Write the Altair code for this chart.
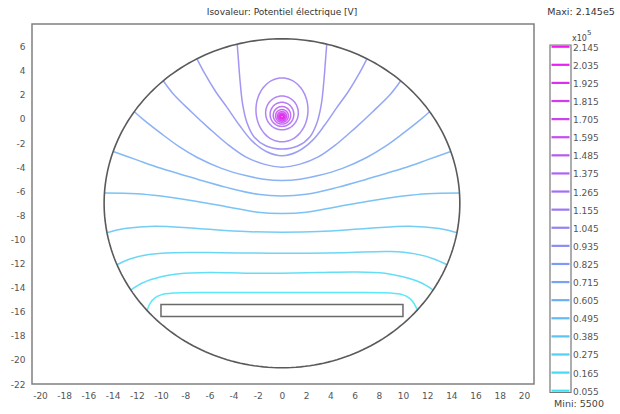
import altair as alt
import numpy as np
import pandas as pd

# ---------------- data ----------------
LEVELS = [0.055, 0.165, 0.275, 0.385, 0.495, 0.605, 0.715, 0.825, 0.935, 1.045,
          1.155, 1.265, 1.375, 1.485, 1.595, 1.705, 1.815, 1.925, 2.035, 2.145]
LEVEL_LABELS = ["0.055", "0.165", "0.275", "0.385", "0.495", "0.605", "0.715",
                "0.825", "0.935", "1.045", "1.155", "1.265", "1.375", "1.485",
                "1.595", "1.705", "1.815", "1.925", "2.035", "2.145"]

X_TICKS = [-20, -18, -16, -14, -12, -10, -8, -6, -4, -2, 0, 2, 4, 6, 8, 10, 12, 14, 16, 18, 20]
Y_TICKS = [-22, -20, -18, -16, -14, -12, -10, -8, -6, -4, -2, 0, 2, 4, 6]

# open iso-lines (ending on the outer boundary), lowest level first
L1_X = [-11.15, -10.9, -10.5, -10.0, -9.0, -6.0, -3.0, 0.0, 3.0, 6.0, 9.0, 10.0, 10.5, 10.9, 11.2]
L1_Y = [-15.9, -15.3, -14.85, -14.6, -14.45, -14.4, -14.4, -14.4, -14.4, -14.4, -14.45, -14.6, -14.85, -15.3, -15.9]
L2_X = [-12.5, -11.5, -10.0, -8.5, -6.0, -3.0, 0.0, 3.0, 6.0, 8.5, 10.0, 11.5, 12.5]
L2_Y = [-14.2, -13.6, -13.1, -12.85, -12.75, -12.8, -12.8, -12.75, -12.7, -12.8, -13.1, -13.6, -14.2]
L3_X = [-13.64, -12.5, -11.0, -9.0, -5.0, 0.0, 5.0, 9.0, 11.0, 12.5, 13.64]
L3_Y = [-12.1, -11.6, -11.25, -11.1, -11.1, -11.15, -11.1, -11.0, -11.2, -11.6, -12.1]
L4_X = [-14.46, -13.0, -10.5, -7.0, -3.0, 0.0, 3.0, 7.0, 10.5, 13.0, 14.46]
L4_Y = [-9.45, -9.1, -8.9, -9.1, -9.35, -9.4, -9.35, -9.1, -8.9, -9.1, -9.45]
L5_X = [-14.67, -12.0, -10.0, -7.0, -4.5, -2.0, 0.0, 2.0, 4.5, 7.0, 10.0, 12.0, 14.67]
L5_Y = [-6.15, -6.2, -6.4, -6.85, -7.3, -7.75, -7.85, -7.75, -7.3, -6.85, -6.4, -6.2, -6.15]
L6_X = [-13.95, -12.0, -10.0, -7.0, -4.5, -2.0, 0.0, 2.0, 4.5, 7.0, 10.0, 12.0, 13.95]
L6_Y = [-2.7, -3.4, -4.1, -5.0, -5.7, -6.25, -6.4, -6.25, -5.7, -5.0, -4.1, -3.4, -2.7]
L7_X = [-12.2, -11.4, -10.0, -8.5, -7.0, -5.0, -3.0, -1.5, 0.0, 1.5, 3.0, 5.0, 7.0, 8.5, 10.0, 11.4, 12.2]
L7_Y = [0.6, -0.1, -1.2, -2.3, -3.2, -4.1, -4.7, -5.0, -5.1, -5.0, -4.7, -4.1, -3.2, -2.3, -1.2, -0.1, 0.6]
L8_X = [-9.8, -9.0, -7.5, -6.0, -4.5, -3.0, -1.5, 0.0, 1.5, 3.0, 4.5, 6.0, 7.5, 9.0, 9.8]
L8_Y = [3.15, 2.1, 0.6, -0.8, -2.1, -3.15, -3.75, -4.0, -3.75, -3.15, -2.1, -0.8, 0.6, 2.1, 3.15]
L9_X = [-7.0, -6.4, -5.5, -4.5, -3.5, -2.5, -1.3, 0.0, 1.3, 2.5, 3.5, 4.5, 5.5, 6.4, 7.0]
L9_Y = [4.95, 3.8, 2.3, 0.9, -0.55, -1.8, -2.7, -3.05, -2.7, -1.8, -0.55, 0.9, 2.3, 3.8, 4.95]
L10_X = [-3.7, -3.6, -3.45, -3.25, -2.9, -2.3, -1.3, 0.0, 1.3, 2.3, 2.9, 3.25, 3.45, 3.6, 3.7]
L10_Y = [6.2, 4.9, 3.0, 1.2, -0.3, -1.5, -2.25, -2.5, -2.25, -1.5, -0.3, 1.2, 3.0, 4.9, 6.2]

# closed iso-lines around the charge: centre and half-axes
LOOP_LEVEL = [1.155, 1.265, 1.375, 1.485, 1.595, 1.705, 1.815, 1.925, 2.035, 2.145]
LOOP_CX = [0.0, 0.0, 0.0, 0.0, 0.0, 0.0, 0.0, 0.0, 0.0, 0.0]
LOOP_CY = [0.75, 0.5, 0.38, 0.3, 0.25, 0.22, 0.2, 0.2, 0.2, 0.2]
LOOP_RX = [2.15, 1.35, 0.98, 0.72, 0.53, 0.39, 0.29, 0.21, 0.15, 0.1]
LOOP_RY = [2.65, 1.4, 1.0, 0.73, 0.53, 0.39, 0.29, 0.21, 0.15, 0.1]

# outer boundary (as drawn) and the plate
BOUND_C = (0.0, -7.0)
BOUND_R = (14.7, 13.65)
PLATE_X = [-10.0, 10.0]
PLATE_Y = [-16.4, -15.4]

# ---------------- tables ----------------
open_lines = [(LEVELS[0], L1_X, L1_Y), (LEVELS[1], L2_X, L2_Y), (LEVELS[2], L3_X, L3_Y),
              (LEVELS[3], L4_X, L4_Y), (LEVELS[4], L5_X, L5_Y), (LEVELS[5], L6_X, L6_Y),
              (LEVELS[6], L7_X, L7_Y), (LEVELS[7], L8_X, L8_Y), (LEVELS[8], L9_X, L9_Y),
              (LEVELS[9], L10_X, L10_Y)]
rows = []
for lid, (lev, xs_, ys_) in enumerate(open_lines):
    for i, (x, y) in enumerate(zip(xs_, ys_)):
        rows.append(dict(id=f"o{lid}", level=lev, i=i, x=x, y=y))
ang = np.linspace(0, 2 * np.pi, 73)
for k, lev in enumerate(LOOP_LEVEL):
    for i, a in enumerate(ang):
        rows.append(dict(id=f"c{k}", level=lev, i=i,
                         x=LOOP_CX[k] + LOOP_RX[k] * np.sin(a),
                         y=LOOP_CY[k] + LOOP_RY[k] * np.cos(a)))
iso = pd.DataFrame(rows)

ang2 = np.linspace(0, 2 * np.pi, 241)
bound = pd.DataFrame({"i": np.arange(len(ang2)),
                      "x": BOUND_C[0] + BOUND_R[0] * np.sin(ang2),
                      "y": BOUND_C[1] + BOUND_R[1] * np.cos(ang2)})
plate = pd.DataFrame({"x1": [PLATE_X[0]], "x2": [PLATE_X[1]], "y1": [PLATE_Y[0]], "y2": [PLATE_Y[1]]})
cbar = pd.DataFrame({"level": LEVELS, "label": LEVEL_LABELS})
one = pd.DataFrame({"a": [0]})

# ---------------- scales ----------------
FONT = "DejaVu Sans"
xs = alt.Scale(domain=[-20.66, 20.83], nice=False, zero=False)
ys = alt.Scale(domain=[-22.0, 7.88], nice=False, zero=False)
cs = alt.Scale(domain=[0.055, 2.145], range=["#3ee4f4", "#f018f0"], interpolate="rgb")
cbs = alt.Scale(domain=[0.055, 2.145], range=[366.7, 22.7], nice=False, zero=False)

xax = alt.Axis(values=X_TICKS, title=None, grid=False, ticks=False, domain=False,
               labelPadding=7, labelFontSize=9, labelColor="#555", labelFont=FONT,
               labelOverlap=False, labelFlush=False, labelExpr="datum.value + ''")
yax = alt.Axis(values=Y_TICKS, title=None, grid=False, ticks=False, domain=False,
               labelPadding=7, labelFontSize=9, labelColor="#555", labelFont=FONT,
               labelOverlap=False, labelFlush=False, labelExpr="datum.value + ''")

contours = alt.Chart(iso).mark_line(interpolate="catmull-rom", strokeWidth=1.5, opacity=0.85).encode(
    x=alt.X("x:Q", scale=xs, axis=xax),
    y=alt.Y("y:Q", scale=ys, axis=yax),
    detail="id:N", order="i:Q",
    color=alt.Color("level:Q", scale=cs, legend=None))

boundary = alt.Chart(bound).mark_line(color="#5a5a5a", strokeWidth=1.6).encode(
    x=alt.X("x:Q", scale=xs, axis=xax), y=alt.Y("y:Q", scale=ys, axis=yax), order="i:Q")

plate_m = alt.Chart(plate).mark_rect(fill="white", stroke="#6a6a6a", strokeWidth=1.5).encode(
    x=alt.X("x1:Q", scale=xs, axis=xax), x2="x2:Q",
    y=alt.Y("y1:Q", scale=ys, axis=yax), y2="y2:Q")

main = alt.layer(contours, boundary, plate_m)

cb_box = alt.Chart(one).mark_rect(fill="white", stroke="#777", strokeWidth=1.2).encode(
    x=alt.value(518), x2=alt.value(539), y=alt.value(21), y2=alt.value(368.5))
cb_lines = alt.Chart(cbar).mark_rule(strokeWidth=2.2).encode(
    y=alt.Y("level:Q", scale=cbs, axis=None),
    x=alt.value(519.5), x2=alt.value(537.5),
    color=alt.Color("level:Q", scale=cs, legend=None))
cb_labels = alt.Chart(cbar).mark_text(align="left", baseline="middle", dy=1, fontSize=9,
                                      color="#555", font=FONT).encode(
    y=alt.Y("level:Q", scale=cbs, axis=None), x=alt.value(541), text="label:N")
cb = alt.layer(cb_box, cb_lines, cb_labels)

def label(txt, x, y, size=9.5, align="center", color="#333"):
    return alt.Chart(one).mark_text(align=align, baseline="middle", fontSize=size,
                                    color=color, font=FONT).encode(
        x=alt.value(x), y=alt.value(y), text=alt.value(txt))

notes = alt.layer(
    label("Isovaleur: Potentiel électrique [V]", 250, -12, size=9),
    label("Maxi: 2.145e5", 549, -12),
    label("x10", 540, 15, size=8, align="left", color="#444"),
    label("5", 555, 9, size=7, align="left", color="#444"),
    label("Mini: 5500", 547, 380, align="center", color="#444"),
)

chart = alt.layer(main, cb, notes).resolve_scale(y="independent").properties(
    width=502, height=360,
    padding={"left": 32, "top": 24, "right": 86, "bottom": 30},
    autosize=alt.AutoSizeParams(type="none"),
    background="white",
).configure_view(stroke="#808080", strokeWidth=1.5).configure_axis(labelOverlap=False)

chart.save("out.html", embed_options={"renderer": "svg", "actions": False})
